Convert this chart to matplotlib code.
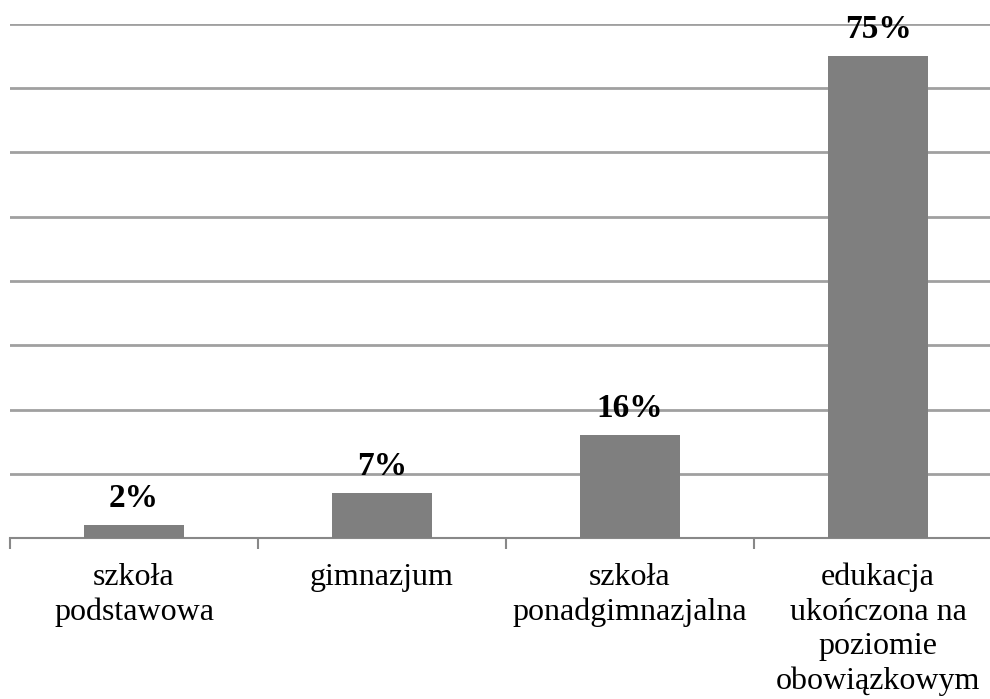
import matplotlib.pyplot as plt

categories = ["szkoła\npodstawowa", "gimnazjum", "szkoła\nponadgimnazjalna",
              "edukacja\nukończona na\npoziomie\nobowiązkowym"]
values = [2, 7, 16, 75]
labels = ["2%", "7%", "16%", "75%"]

plt.rcParams['font.family'] = ['Liberation Serif', 'DejaVu Serif']

fig = plt.figure(figsize=(9.9, 6.99), dpi=100)
ax = fig.add_axes([10/990, (699-538)/699, 992/990, 514/699])

x = range(len(values))
bars = ax.bar(x, values, width=0.4, color="#7f7f7f", zorder=3)
for xi, v, lab in zip(x, values, labels):
    ax.annotate(lab, (xi, v), xytext=(0, 8), textcoords="offset points",
                ha="center", va="bottom", fontsize=24, fontweight="bold", zorder=4)

ax.set_xlim(-0.5, 3.5)
ax.set_ylim(0, 80)
ax.set_yticks(range(0, 81, 10))
ax.yaxis.grid(True, color="#a0a0a0", linewidth=2)
ax.tick_params(axis="y", left=False, labelleft=False)
ax.set_xticks([-0.5, 0.5, 1.5, 2.5, 3.5])
ax.set_xticklabels([])
ax.set_xticks(list(x), minor=True)
ax.set_xticklabels(categories, minor=True, fontsize=23, linespacing=1.24)
ax.tick_params(axis="x", which="major", length=8, width=1.5, color="#888888")
ax.tick_params(axis="x", which="minor", length=0, pad=18)
for s in ["top", "right", "left"]:
    ax.spines[s].set_visible(False)
ax.spines["bottom"].set_color("#888888")
ax.spines["bottom"].set_linewidth(1.5)
ax.set_axisbelow(True)

fig.savefig("out.png", dpi=100)
